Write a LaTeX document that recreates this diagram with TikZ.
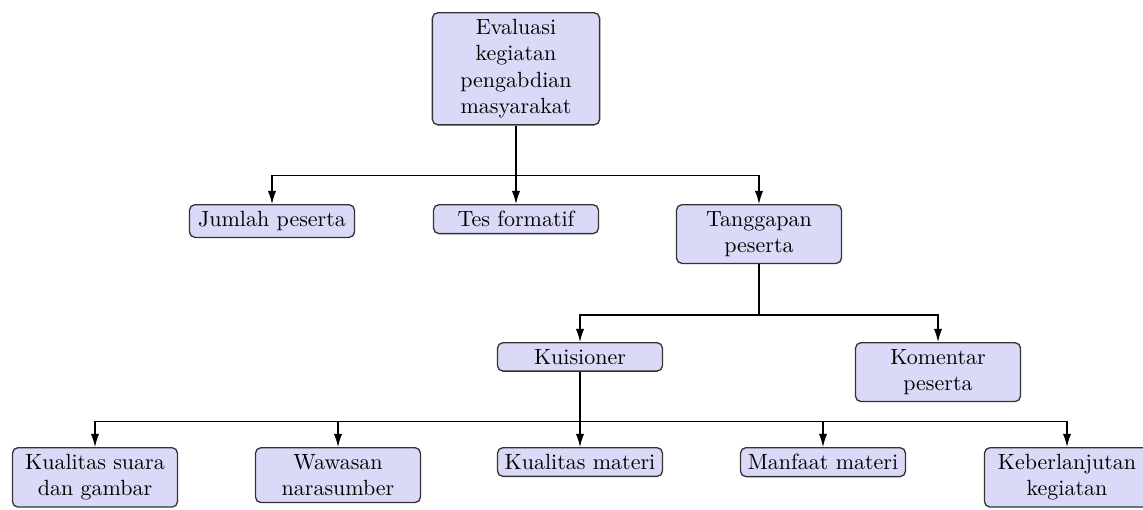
\documentclass[tikz,border=0pt]{standalone}
\usetikzlibrary{arrows.meta}
\definecolor{boxfill}{RGB}{218,218,248}
\begin{document}
\begin{tikzpicture}[x=0.4545pt,y=-0.4545pt,
  box/.style={draw=black!80, fill=boxfill, rounded corners=2.5pt, align=center,
    text width=69pt, inner sep=3pt, anchor=north, line width=0.6pt},
  conn/.style={line width=0.6pt, -{Latex[length=6pt,width=3.8pt]}}]
\useasboundingbox (0,0) rectangle (1143,509);
\node[box, text width=70pt] (top) at (516,12) {Evaluasi\\kegiatan\\pengabdian\\masyarakat};
\node[box] (jum) at (272,204) {Jumlah peserta};
\node[box] (tes) at (516,204) {Tes formatif};
\node[box] (tan) at (759,204) {Tanggapan\\peserta};
\node[box] (kui) at (580,342) {Kuisioner};
\node[box] (kom) at (938,342) {Komentar\\peserta};
\node[box] (b1) at (95,447) {Kualitas suara\\dan gambar};
\node[box] (b2) at (338,447) {Wawasan\\narasumber};
\node[box] (b3) at (580,447) {Kualitas materi};
\node[box] (b4) at (823,447) {Manfaat materi};
\node[box] (b5) at (1067,447) {Keberlanjutan\\kegiatan};
\foreach \c in {jum,tes,tan}{\draw[conn] (top.south) -- ++(0,50) -| (\c.north);}
\foreach \c in {kui,kom}{\draw[conn] (tan.south) -- ++(0,51) -| (\c.north);}
\foreach \c in {b1,b2,b3,b4,b5}{\draw[conn] (kui.south) -- ++(0,50) -| (\c.north);}
\end{tikzpicture}
\end{document}
